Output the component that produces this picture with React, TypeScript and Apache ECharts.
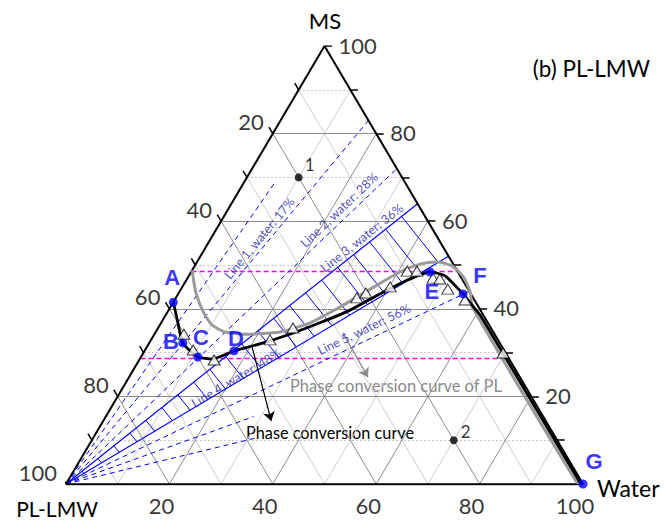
import React, { useEffect, useRef } from "react";
import * as echarts from "echarts";

// ---------- data (compositions in %, PL-LMW = 100 - Water - MS) ----------
const gridLevels = [10, 20, 30, 40, 50, 60, 70, 80, 90];
const tickLevels = [10, 20, 30, 40, 50, 60, 70, 80, 90, 100];
const labelLevels = [20, 40, 60, 80, 100];

const lineNames = ["Line 1", "Line 2", "Line 3", "Line 4", "Line 5"];
const lineWater = [17, 28, 36, 48, 56];
const lineSolid = [false, false, true, true, false];
// extra unlabeled dilution lines: water share and how far they run (fraction of full length)
const extraDashWater = [8, 65, 75];
const extraDashReach = [0.75, 0.44, 0.42];

const keyNames = ["A", "B", "C", "D", "E", "F", "G"];
const keyWater = [0, 6.5, 11.0, 17.3, 46.2, 55.1, 100];
const keyMS = [41.5, 32.2, 29.0, 30.4, 48.4, 43.4, 0];

const curveWater = [0, 2.5, 4.8, 6.5, 8.8, 11.0, 14.0, 17.3, 21.5, 26.2, 30.7, 35.1, 39.0, 42.4, 46.2, 49.4, 52.5, 55.1, 58.4, 61.0, 99.2, 100];
const curveMS = [41.5, 37.9, 34.5, 32.2, 30.4, 29.0, 28.5, 30.4, 32.0, 34.2, 36.8, 39.7, 43.4, 46.3, 48.4, 47.6, 45.4, 43.4, 40.6, 38.4, 0.4, 0];

const plCurveWater = [0, 3.2, 6.9, 10.1, 13.4, 17.5, 24.0, 28.8, 32.8, 36.6, 40.4, 43.4, 46.4, 49.8, 53.2, 56.3, 58.4, 98.4, 100];
const plCurveMS = [48.8, 43.8, 39.3, 36.3, 34.7, 34.2, 34.7, 36.8, 40.4, 44.5, 48.4, 50.2, 50.7, 49.8, 47.3, 43.8, 40.4, 0.6, 0];

const triWater = [5.7, 9.3, 14.5, 23.0, 26.1, 35.0, 36.2, 40.2, 41.7, 43.6, 47.5, 48.9, 51.6, 56.2, 69.6];
const triMS = [34.2, 30.6, 28.3, 32.9, 35.6, 42.5, 43.6, 45.0, 48.6, 48.6, 47.0, 46.8, 44.5, 42.0, 29.9];

const sampleNames = ["1", "2"];
const sampleWater = [10, 70];
const sampleMS = [70, 10];

const magentaMS = [48.6, 28.8];

// arrows: [water, MS] start -> end
const arrowBlack = [[20.2, 31.5], [32.5, 14.4]];
const arrowGray = [[36.3, 34.5], [46.2, 24.4]];

// ---------- layout ----------
const PLOT = { left: 66, top: 46, width: 517, height: 438 };
const pxX = PLOT.width / 100;
const pxY = PLOT.height / 100;
const FONT = "Lato, 'Open Sans', sans-serif";
const BLUE = "#0000ff";
const LBLUE = "#2323b0";

const xy = (w: number, ms: number) => [w + ms / 2, ms];
const seg = (a: number[], b: number[]) => ({ coords: [a, b] });

function buildOption() {
  const majorSegs: any[] = [];
  const minorDiag: any[] = [];
  const minorHoriz: any[] = [];
  gridLevels.forEach((k) => {
    const h = seg(xy(0, k), xy(100 - k, k));
    const d1 = seg(xy(k, 0), xy(k, 100 - k));
    const d2 = seg(xy(100 - k, 0), xy(0, 100 - k));
    if (k % 20 === 0) majorSegs.push(h, d1, d2);
    else {
      minorHoriz.push(h);
      minorDiag.push(d1, d2);
    }
  });

  const d = 1.5;
  const tickSegs: any[] = [];
  tickLevels.forEach((k) => {
    tickSegs.push(seg(xy(0, 100 - k), xy(-d, 100 - k + d)));
    tickSegs.push(seg(xy(100 - k, k), xy(100 - k + d * 0.97, k)));
    tickSegs.push(seg(xy(k, 0), xy(k, -d)));
  });

  const tickLabelItems: any[] = [];
  labelLevels.forEach((k) => {
    tickLabelItems.push({
      value: xy(0, 100 - k),
      label: { show: true, formatter: String(k), position: "inside", align: "right", verticalAlign: "middle", offset: [-9, -12] },
    });
    tickLabelItems.push({
      value: xy(100 - k, k),
      label: { show: true, formatter: String(k), position: "inside", align: "left", verticalAlign: "middle", offset: [14, -1] },
    });
    tickLabelItems.push({
      value: xy(k, 0),
      label: { show: true, formatter: String(k), position: "inside", align: "center", verticalAlign: "middle", offset: [-8, 21] },
    });
  });

  const dashedSegs: any[] = [];
  const solidSegs: any[] = [];
  lineWater.forEach((r, i) => {
    const s = seg(xy(0, 0), xy(r, 100 - r));
    (lineSolid[i] ? solidSegs : dashedSegs).push(s);
  });
  extraDashWater.forEach((r, i) => {
    const t = extraDashReach[i];
    dashedSegs.push(seg(xy(0, 0), xy(r * t, (100 - r) * t)));
  });

  // ladder between line 3 and line 4
  const r3 = lineWater[2], r4 = lineWater[3];
  const dir3 = [(r3 + (100 - r3) / 2) * pxX, (100 - r3) * pxY];
  const len3 = Math.hypot(dir3[0], dir3[1]);
  const perp = [dir3[1] / len3, -dir3[0] / len3];
  const a4 = r4 + (100 - r4) / 2, b4 = 100 - r4;
  const rungs: any[] = [];
  const nR = 22;
  for (let i = 1; i < nR; i++) {
    const t = i / nR;
    const P = [(r3 + (100 - r3) / 2) * t, (100 - r3) * t];
    const v = [perp[0] / pxX, perp[1] / pxY];
    const s = -(P[0] * b4 - P[1] * a4) / (v[0] * b4 - v[1] * a4);
    rungs.push(seg(P, [P[0] + s * v[0], P[1] + s * v[1]]));
  }
  solidSegs.push(seg(xy(r3, 100 - r3), xy(r4, 100 - r4)));

  const lineLabelD = [8.5, 10, 8, 4, 11];
  const lineLabelT = [0.661, 0.846, 0.856, 0.45, 0.751];
  const lineLabelItems = lineWater.map((r, i) => {
    const dx = (r + (100 - r) / 2) * pxX, dy = (100 - r) * pxY;
    const L = Math.hypot(dx, dy);
    const ang = (Math.atan2(dy, dx) * 180) / Math.PI;
    const t = lineLabelT[i];
    const P = [(r + (100 - r) / 2) * t, (100 - r) * t];
    const n = [(-dy / L) * lineLabelD[i] / pxX, (dx / L) * lineLabelD[i] / pxY];
    return {
      value: [P[0] + n[0], P[1] + n[1]],
      label: { show: true, formatter: `${lineNames[i]}, water: ${r}%`, rotate: ang, position: "inside", align: "center", verticalAlign: "middle" },
    };
  });

  const magentaSegs = magentaMS.map((m) => seg(xy(0, m), xy(100 - m, m)));

  const lineSeries = (data: any[], style: any, z: number) => ({
    type: "lines",
    coordinateSystem: "cartesian2d",
    polyline: false,
    silent: true,
    z,
    lineStyle: { opacity: 1, curveness: 0, ...style },
    data,
  });

  return {
    animation: false,
    backgroundColor: "#ffffff",
    grid: { left: PLOT.left, top: PLOT.top, width: PLOT.width, height: PLOT.height },
    xAxis: { type: "value", min: 0, max: 100, show: false },
    yAxis: { type: "value", min: 0, max: 100, show: false },
    graphic: [
      { type: "text", x: 325, y: 20, style: { text: "MS", font: `22px ${FONT}`, fill: "#000", align: "center", verticalAlign: "middle" } },
      { type: "text", x: 57, y: 508, style: { text: "PL-LMW", font: `21px ${FONT}`, fill: "#000", align: "center", verticalAlign: "middle" } },
      { type: "text", x: 597, y: 488, style: { text: "Water", font: `23px ${FONT}`, fill: "#000", align: "left", verticalAlign: "middle" } },
      { type: "text", x: 650, y: 68, style: { text: "(b) PL-LMW", font: `22.5px ${FONT}`, fill: "#000", align: "right", verticalAlign: "middle" } },
      { type: "text", x: 290, y: 386, style: { text: "Phase conversion curve of PL", font: `16.5px ${FONT}`, fill: "#8a8a8a", align: "left", verticalAlign: "middle" } },
      { type: "text", x: 246, y: 432, style: { text: "Phase conversion curve", font: `16.3px ${FONT}`, fill: "#000", align: "left", verticalAlign: "middle" } },
    ],
    series: [
      lineSeries(minorHoriz, { color: "#c4c4c4", width: 1, type: [2, 2] }, 1),
      lineSeries(minorDiag, { color: "#cdcdcd", width: 1 }, 1),
      lineSeries(majorSegs, { color: "#8c8c8c", width: 1 }, 2),
      lineSeries(magentaSegs, { color: "#ff00ff", width: 1.3, type: [5, 3] }, 3),
      lineSeries(dashedSegs, { color: BLUE, width: 1, type: [5, 4] }, 4),
      lineSeries(solidSegs, { color: BLUE, width: 1.2 }, 4),
      lineSeries(rungs, { color: BLUE, width: 1 }, 4),
      lineSeries(
        [seg(xy(100, 0), xy(0, 100)), seg(xy(0, 100), xy(0, 0))],
        { color: "#000", width: 2 },
        5
      ),
      lineSeries([seg(xy(0, 0), xy(100, 0))], { color: "#000", width: 2.6 }, 5),
      lineSeries(tickSegs, { color: "#000", width: 1.5 }, 5),
      {
        type: "line",
        z: 6,
        smooth: 0.2,
        symbol: "none",
        lineStyle: { color: "#9a9a9a", width: 3 },
        data: plCurveWater.map((w, i) => xy(w, plCurveMS[i])),
      },
      {
        type: "line",
        z: 7,
        smooth: 0.2,
        symbol: "none",
        lineStyle: { color: "#000", width: 2.8 },
        data: curveWater.map((w, i) => xy(w, curveMS[i])),
      },
      {
        type: "scatter",
        z: 8,
        symbol: "triangle",
        symbolSize: [12, 10],
        itemStyle: { color: "#fff", borderColor: "#000", borderWidth: 1 },
        data: triWater.map((w, i) => xy(w, triMS[i])),
      },
      {
        type: "lines",
        coordinateSystem: "cartesian2d",
        z: 9,
        silent: true,
        symbol: ["none", "arrow"],
        symbolSize: 9,
        lineStyle: { width: 1.2, opacity: 1, curveness: 0 },
        data: [
          { coords: arrowBlack.map((p) => xy(p[0], p[1])), lineStyle: { color: "#000" } },
          { coords: arrowGray.map((p) => xy(p[0], p[1])), lineStyle: { color: "#8a8a8a" } },
        ],
      },
      {
        type: "scatter",
        z: 10,
        symbolSize: 9,
        itemStyle: { color: BLUE },
        label: {
          show: true,
          position: "inside",
          color: BLUE,
          fontFamily: "'Liberation Sans', Arial, sans-serif",
          fontWeight: "bold",
          fontSize: 22,
        },
        data: keyNames.map((n, i) => ({
          value: xy(keyWater[i], keyMS[i]),
          label: {
            formatter: n,
            offset: [
              [-1, -25],
              [-12, -1],
              [3, -19],
              [2, -12],
              [2, 19],
              [17, -18],
              [11, -23],
            ][i],
          },
        })),
      },
      {
        type: "scatter",
        z: 10,
        symbolSize: 8,
        itemStyle: { color: "#000" },
        label: { show: true, position: "inside", color: "#000", fontFamily: FONT, fontSize: 17 },
        data: sampleNames.map((n, i) => ({
          value: xy(sampleWater[i], sampleMS[i]),
          label: { formatter: n, offset: [[11, -13], [12, -9]][i] },
        })),
      },
      {
        type: "scatter",
        z: 11,
        symbolSize: 0,
        silent: true,
        label: { show: true, color: "#000", fontFamily: FONT, fontSize: 22 },
        data: tickLabelItems,
      },
      {
        type: "scatter",
        z: 11,
        symbolSize: 0,
        silent: true,
        label: { show: true, color: LBLUE, fontFamily: FONT, fontSize: 12.5 },
        data: lineLabelItems,
      },
    ],
  };
}

export default function App() {
  const ref = useRef<HTMLDivElement>(null);
  useEffect(() => {
    const chart = echarts.init(ref.current!, null, { renderer: "svg" });
    chart.setOption(buildOption() as any);
    return () => chart.dispose();
  }, []);
  return (
    <div
      ref={ref}
      style={{ position: "fixed", left: 0, top: 0, width: 667, height: 521, background: "#fff" }}
    />
  );
}
